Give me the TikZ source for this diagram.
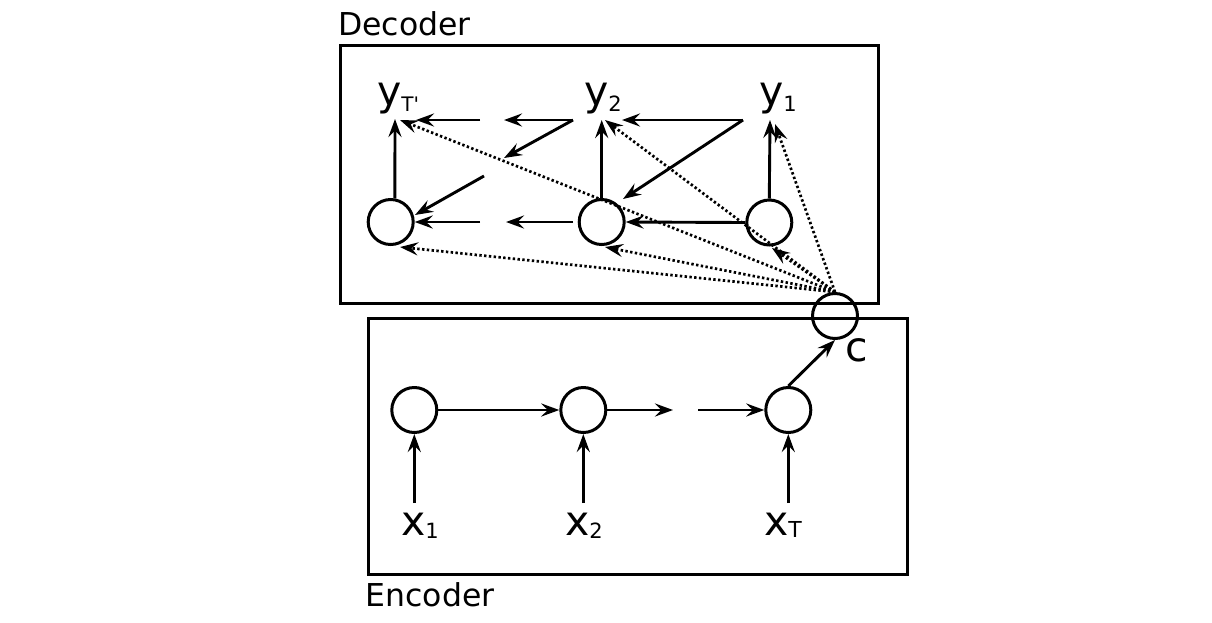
\documentclass[tikz,border=0pt]{standalone}
\usepackage{fontspec}
\setmainfont{DejaVu Sans}
\usetikzlibrary{arrows.meta}
\tikzset{
  tip/.style={-{Stealth[length=18pt,width=13pt,inset=6.5pt]}},
  arr/.style={tip, line width=2.9pt},
  dotarr/.style={tip, line width=2.7pt, dash pattern=on 2.4pt off 2.4pt},
  cell/.style={circle, draw, line width=3pt, minimum size=45pt, inner sep=0pt},
  box/.style={draw, line width=3pt, inner sep=0pt, anchor=north west},
  lab/.style={anchor=base west, inner sep=0pt, font=\fontsize{41}{48}\selectfont},
  ttl/.style={anchor=base west, inner sep=0pt, font=\fontsize{31.5}{37}\selectfont},
}
\newcommand\subsc[3]{\raisebox{-#1pt}{\fontsize{#2}{#2}\selectfont #3}}
\begin{document}
\begin{tikzpicture}[x=1pt,y=-1pt]
\useasboundingbox (0,0) rectangle (1212,622);
% boxes
\node[box, minimum width=538pt, minimum height=257.5pt] (decbox) at (339,44) {};
\node[box, minimum width=538.5pt, minimum height=256.5pt] (encbox) at (367,316.5) {};
\node[ttl] (dectitle) at (338,35) {Decoder};
\node[ttl] (enctitle) at (365.5,606.7) {Encoder};
% decoder cells
\node[cell] (d1) at (390.7,222) {};
\node[cell] (d2) at (601.7,222) {};
\node[cell] (d3) at (769.3,222.5) {};
% context
\node[cell] (c) at (835,316) {};
\node[lab] (clab) at (845,361.5) {c};
% encoder cells
\node[cell] (e1) at (414.3,410) {};
\node[cell] (e2) at (583.3,410) {};
\node[cell] (e3) at (788.3,410) {};
% labels
\node[lab] (yT) at (377,105) {y\subsc{6.7}{20}{T\textquotesingle}};
\node[lab] (y2) at (584,105) {y\subsc{6.7}{21}{2}};
\node[lab] (y1) at (759,105) {y\subsc{6.7}{21}{1}};
\node[lab] (x1) at (401,535) {x\subsc{3}{21}{1}};
\node[lab] (x2) at (565,535) {x\subsc{3}{21}{2}};
\node[lab] (xT) at (764,535) {x\subsc{2}{22}{T}};
% coordinates
\coordinate (tT) at (395,119);
\coordinate (t2) at (601.7,120);
\coordinate (t1) at (770,120);
\coordinate (a1) at (743,120);
\coordinate (a2) at (622,120);
\coordinate (a3) at (623,199);
\coordinate (b1) at (573,120);
\coordinate (b2) at (504,120);
\coordinate (b3) at (504,158);
\coordinate (g1) at (480,120);
\coordinate (g2) at (416,120);
\coordinate (h1) at (484,176);
\coordinate (h2) at (415,215);
\coordinate (m1) at (573,222);
\coordinate (m2) at (506,222);
\coordinate (n1) at (480,222);
\coordinate (dT) at (400,120);
\coordinate (dd2) at (605,120);
\coordinate (dd1) at (775,124);
\coordinate (bd1) at (400,247);
\coordinate (bd2) at (605,247);
\coordinate (bd3) at (772,248);
\coordinate (s1) at (414.3,503);
\coordinate (s2) at (583.3,503);
\coordinate (s3) at (788.3,503);
\coordinate (f1) at (673,410);
\coordinate (f2) at (698,410);
% decoder vertical
\draw[arr] (d1.80) -- (tT);
\draw[arr] (d2.north) -- (t2);
\draw[arr] (d3.north) -- (t1);
% decoder top row
\draw[arr] (a1) -- (a2);
\draw[arr] (a1) -- (a3);
\draw[arr] (b1) -- (b2);
\draw[arr] (b1) -- (b3);
\draw[arr] (g1) -- (g2);
\draw[arr] (h1) -- (h2);
% decoder bottom row
\draw[arr] (d3.west) -- (d2.east);
\draw[arr] (m1) -- (m2);
\draw[arr] (n1) -- (d1.east);
% dotted from c
\draw[dotarr] (c.north) -- (dT);
\draw[dotarr] (c.north) -- (dd2);
\draw[dotarr] (c.north) -- (dd1);
\draw[dotarr] (c.north) -- (bd1);
\draw[dotarr] (c.north) -- (bd2);
\draw[dotarr] (c.north) -- (bd3);
% encoder
\draw[arr] (s1) -- (e1.south);
\draw[arr] (s2) -- (e2.south);
\draw[arr] (s3) -- (e3.south);
\draw[arr] (e1.east) -- (e2.west);
\draw[arr] (e2.east) -- (f1);
\draw[arr] (f2) -- (e3.west);
\draw[arr] (e3.north) -- (c.south);
\end{tikzpicture}
\end{document}
